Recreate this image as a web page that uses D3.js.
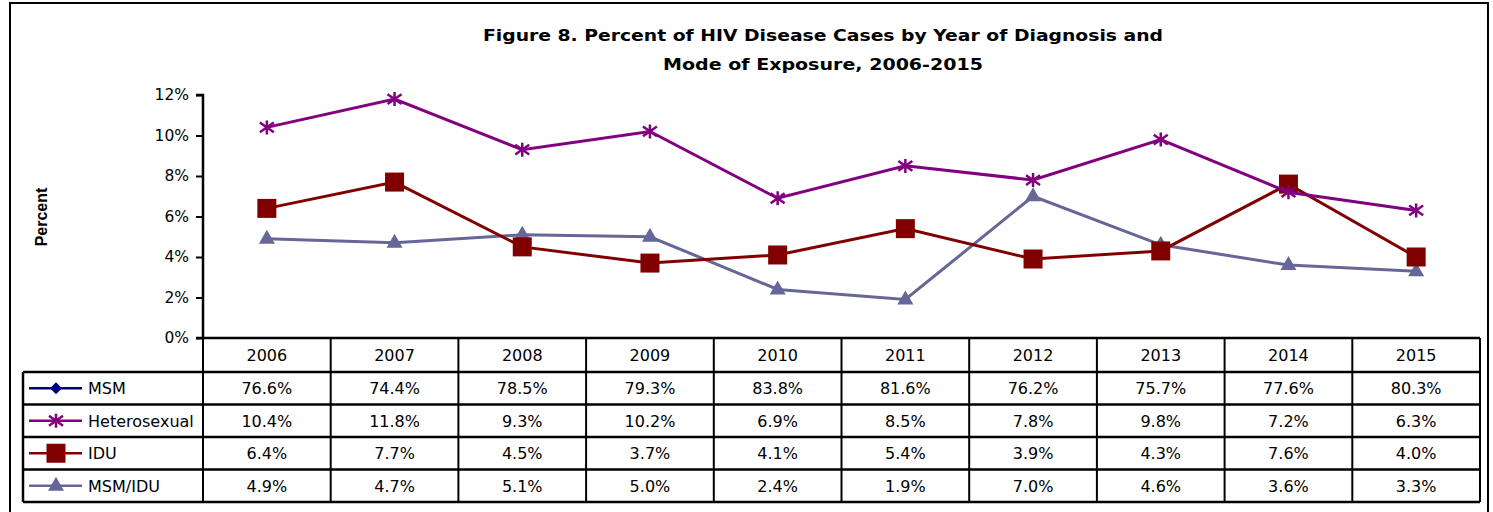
<!DOCTYPE html>
<html><head><meta charset="utf-8">
<script src="https://cdn.jsdelivr.net/npm/d3@7"></script>
<style>body{margin:0;background:#fff}svg{display:block}</style>
</head><body><svg id="c" width="1493" height="512"></svg>
<script>
const years = ["2006","2007","2008","2009","2010","2011","2012","2013","2014","2015"];
const msm = [76.6,74.4,78.5,79.3,83.8,81.6,76.2,75.7,77.6,80.3];
const hetero = [10.4,11.8,9.3,10.2,6.9,8.5,7.8,9.8,7.2,6.3];
const idu = [6.4,7.7,4.5,3.7,4.1,5.4,3.9,4.3,7.6,4.0];
const msmIdu = [4.9,4.7,5.1,5.0,2.4,1.9,7.0,4.6,3.6,3.3];
const yTicks = [0,2,4,6,8,10,12];
const seriesNames = ["MSM","Heterosexual","IDU","MSM/IDU"];
const titleLines = ["Figure 8. Percent of HIV Disease Cases by Year of Diagnosis and","Mode of Exposure, 2006-2015"];

const series = [
  {name:seriesNames[0], vals:msm, color:"#000080", marker:"diamond"},
  {name:seriesNames[1], vals:hetero, color:"#800080", marker:"star"},
  {name:seriesNames[2], vals:idu, color:"#800000", marker:"square"},
  {name:seriesNames[3], vals:msmIdu, color:"#666699", marker:"triangle"}
];

const svg = d3.select("#c");
const L = 203, R = 1480, T = 95, B = 338;
const legL = 23;
const rowH = [34, 32.5, 32.5, 32.5, 32.5];

// outer border
svg.append("rect").attr("x",10).attr("y",3).attr("width",1478).attr("height",520)
  .attr("fill","none").attr("stroke","#000").attr("stroke-width",2);

// title
titleLines.forEach((t,i)=>{
  svg.append("text").attr("x",823).attr("y",41+i*29).attr("text-anchor","middle")
    .attr("font-family","DejaVu Sans, Verdana, sans-serif").attr("font-weight","bold")
    .attr("font-size",16.5).attr("fill","#000")
    .attr("textLength", i===0?680:320).attr("lengthAdjust","spacingAndGlyphs").text(t);
});

const x = d3.scaleBand().domain(years).range([L,R]);
const y = d3.scaleLinear().domain([0,12]).range([B,T]);

// y axis
const yAxis = d3.axisLeft(y).tickValues(yTicks).tickFormat(d=>d+"%").tickSize(7).tickPadding(7);
const ga = svg.append("g").attr("transform",`translate(${L},0)`).call(yAxis);
ga.select(".domain").attr("stroke-width",2.5).attr("d",`M-7,${T}H0V${B}H-7`);
ga.selectAll(".tick line").attr("stroke-width",2);
ga.selectAll(".tick text").attr("font-family","DejaVu Sans, Tahoma, sans-serif").attr("font-size",15.5).attr("fill","#000");

svg.append("text").attr("transform",`translate(47,217) rotate(-90)`).attr("text-anchor","middle")
  .attr("font-family","Liberation Sans, Arial, sans-serif").attr("font-weight","bold").attr("font-size",16).text("Percent");

// clip
svg.append("clipPath").attr("id","pc").append("rect").attr("x",L-20).attr("y",T-20).attr("width",R-L+40).attr("height",B-T+20);

const cx = d=>x(d)+x.bandwidth()/2;

function marker(g, type, color, px, py){
  if(type==="square"){
    g.append("rect").attr("x",px-9.5).attr("y",py-9.5).attr("width",19).attr("height",19).attr("fill",color);
  } else if(type==="triangle"){
    g.append("path").attr("d",`M${px},${py-9}L${px+8},${py+5}L${px-8},${py+5}Z`).attr("fill",color);
  } else if(type==="diamond"){
    g.append("path").attr("d",`M${px},${py-6}L${px+6},${py}L${px},${py+6}L${px-6},${py}Z`).attr("fill",color);
  } else if(type==="star"){
    const r=7;
    g.append("path").attr("d",`M${px},${py-r}V${py+r}M${px-r},${py-r*0.7}L${px+r},${py+r*0.7}M${px-r},${py+r*0.7}L${px+r},${py-r*0.7}`)
      .attr("stroke",color).attr("stroke-width",2.5).attr("fill","none");
  }
}

const plot = svg.append("g").attr("clip-path","url(#pc)");
const line = d3.line().x((d,i)=>cx(years[i])).y(d=>y(d));
[series[0],series[3],series[2],series[1]].forEach(s=>{
  const g = plot.append("g");
  g.append("path").attr("d",line(s.vals)).attr("fill","none").attr("stroke",s.color).attr("stroke-width",3);
  s.vals.forEach((v,i)=>marker(g,s.marker,s.color,cx(years[i]),y(v)));
});

// table
const tf = "DejaVu Sans, Tahoma, sans-serif";
const tfs = 16;
const hdrB = B + rowH[0];
years.forEach(yr=>{
  svg.append("text").attr("x",cx(yr)).attr("y",B+23).attr("text-anchor","middle")
    .attr("font-family",tf).attr("font-size",tfs).text(yr);
});
svg.append("line").attr("x1",L).attr("x2",R).attr("y1",B).attr("y2",B).attr("stroke","#000").attr("stroke-width",2.5);
let ry = hdrB;
const rowTops = [];
series.forEach((s,k)=>{ rowTops.push(ry); ry += rowH[k+1]; });
const tableB = ry;
[hdrB, ...rowTops.slice(1), tableB].forEach(v=>{
  svg.append("line").attr("x1",legL).attr("x2",R).attr("y1",v).attr("y2",v).attr("stroke","#000").attr("stroke-width",2.5);
});
years.forEach(yr=>{
  svg.append("line").attr("x1",x(yr)).attr("x2",x(yr)).attr("y1",B).attr("y2",tableB).attr("stroke","#000").attr("stroke-width",2);
});
svg.append("line").attr("x1",R).attr("x2",R).attr("y1",B).attr("y2",tableB).attr("stroke","#000").attr("stroke-width",2);
svg.append("line").attr("x1",legL).attr("x2",legL).attr("y1",hdrB).attr("y2",tableB).attr("stroke","#000").attr("stroke-width",2.5);

series.forEach((s,k)=>{
  const top = rowTops[k], mid = top + rowH[k+1]/2;
  const g = svg.append("g");
  g.append("line").attr("x1",29).attr("x2",82).attr("y1",mid).attr("y2",mid).attr("stroke",s.color).attr("stroke-width",2.5);
  marker(g,s.marker,s.color,56,mid);
  svg.append("text").attr("x",88).attr("y",mid+6).attr("font-family",tf).attr("font-size",tfs).text(s.name);
  s.vals.forEach((v,i)=>{
    svg.append("text").attr("x",cx(years[i])).attr("y",mid+6).attr("text-anchor","middle")
      .attr("font-family",tf).attr("font-size",tfs).text(v.toFixed(1)+"%");
  });
});
</script></body></html>
